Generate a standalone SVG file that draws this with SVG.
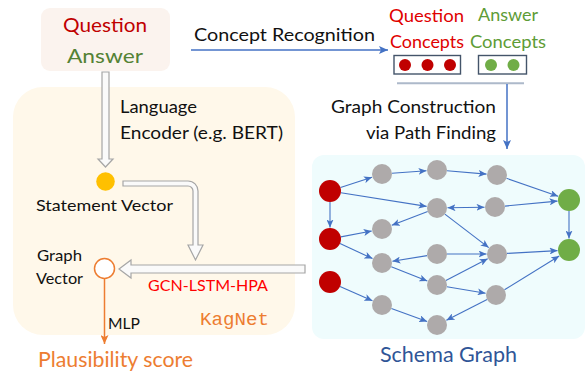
<svg xmlns="http://www.w3.org/2000/svg" width="585" height="374" viewBox="0 0 585 374">
<style>
text{font-family:Lato,"Open Sans","DejaVu Sans",sans-serif;}
.blk{fill:#111;}
.e{stroke:#4472c4;stroke-width:1.1;fill:none;marker-end:url(#ah);}
.gray{fill:#aeaaaa;}
.red{fill:#c00000;}
.grn{fill:#70ad47;}
.hollow{fill:#fafafa;stroke:#a6a6a6;stroke-width:1.2;}
</style>
<defs>
<marker id="ah" markerUnits="userSpaceOnUse" markerWidth="9" markerHeight="7" refX="8" refY="3.5" orient="auto-start-reverse">
<path d="M0,0 L8,3.5 L0,7 L2,3.5 z" fill="#4472c4"/>
</marker>
<marker id="ahb" markerUnits="userSpaceOnUse" markerWidth="10" markerHeight="8" refX="9" refY="4" orient="auto">
<path d="M0,0 L9,4 L0,8 L2,4 z" fill="#4472c4"/>
</marker>
<marker id="aho" markerUnits="userSpaceOnUse" markerWidth="10" markerHeight="8" refX="9" refY="4" orient="auto">
<path d="M0,0 L9,4 L0,8 L2,4 z" fill="#ed7d31"/>
</marker>
</defs>

<g id="kagnet-panel">
<rect x="13" y="87" width="282" height="248" rx="30" fill="#fff8ea"/>
<text x="200" y="325" font-family="'Liberation Mono',monospace" font-size="19" fill="#ed7d31" textLength="69" lengthAdjust="spacingAndGlyphs" style="font-family:'Liberation Mono',monospace">KagNet</text>
</g>

<g id="schema-panel">
<rect x="312" y="155" width="273" height="184" rx="12" fill="#effcfd"/>
<text x="448.5" y="362" font-size="21" fill="#2f5597" text-anchor="middle" textLength="137" lengthAdjust="spacingAndGlyphs">Schema Graph</text>
</g>

<g id="qa-box">
<rect x="41" y="8" width="129" height="63" rx="9" fill="#fbf3ee"/>
<text x="105" y="32" font-size="20" fill="#c00000" text-anchor="middle" textLength="84" lengthAdjust="spacingAndGlyphs">Question</text>
<text x="105" y="63" font-size="20" fill="#548235" text-anchor="middle" textLength="76" lengthAdjust="spacingAndGlyphs">Answer</text>
</g>

<g id="question-concepts">
<text x="426.5" y="22" font-size="17" fill="#e00000" text-anchor="middle" textLength="75" lengthAdjust="spacingAndGlyphs">Question</text>
<text x="427" y="47.5" font-size="17" fill="#e00000" text-anchor="middle" textLength="74" lengthAdjust="spacingAndGlyphs">Concepts</text>
<rect x="394" y="55.5" width="66.5" height="18.5" fill="none" stroke="#44546a" stroke-width="1.4"/>
<circle cx="405" cy="65" r="6" class="red"/>
<circle cx="427.5" cy="65" r="6" class="red"/>
<circle cx="450" cy="65" r="6" class="red"/>
</g>

<g id="answer-concepts">
<text x="508" y="21" font-size="17" fill="#5e9c36" text-anchor="middle" textLength="60" lengthAdjust="spacingAndGlyphs">Answer</text>
<text x="508" y="47.5" font-size="17" fill="#5e9c36" text-anchor="middle" textLength="76" lengthAdjust="spacingAndGlyphs">Concepts</text>
<rect x="478.5" y="55.5" width="48" height="18.5" fill="none" stroke="#44546a" stroke-width="1.4"/>
<circle cx="491" cy="65" r="6" class="grn"/>
<circle cx="513.5" cy="65" r="6" class="grn"/>
</g>

<g id="statement-vector">
<circle cx="105.5" cy="181.5" r="9.3" fill="#ffc000"/>
<text x="36" y="210.5" font-size="15" class="blk" textLength="137" lengthAdjust="spacingAndGlyphs">Statement Vector</text>
</g>

<g id="graph-vector">
<circle cx="104.5" cy="268.5" r="10" fill="#ffffff" stroke="#ed7d31" stroke-width="1.5"/>
<text x="37" y="261" font-size="15" class="blk" textLength="45" lengthAdjust="spacingAndGlyphs">Graph</text>
<text x="36" y="284" font-size="15" class="blk" textLength="47" lengthAdjust="spacingAndGlyphs">Vector</text>
</g>

<g id="plausibility-score">
<text x="38" y="367" font-size="21" fill="#ed7d31" textLength="155" lengthAdjust="spacingAndGlyphs">Plausibility score</text>
</g>

<g id="connectors">
<!-- top pipeline -->
<line x1="191" y1="50" x2="388" y2="50" stroke="#4472c4" stroke-width="1.5" marker-end="url(#ahb)"/>
<text x="194" y="41" font-size="18" class="blk" textLength="181" lengthAdjust="spacingAndGlyphs">Concept Recognition</text>
<line x1="397" y1="83.3" x2="524" y2="83.3" stroke="#adb9ca" stroke-width="2"/>
<line x1="507" y1="84" x2="507" y2="149" stroke="#4472c4" stroke-width="1.5" marker-end="url(#ahb)"/>
<text x="496" y="112.5" font-size="17" class="blk" text-anchor="end" textLength="165" lengthAdjust="spacingAndGlyphs">Graph Construction</text>
<text x="496" y="139" font-size="17" class="blk" text-anchor="end" textLength="130" lengthAdjust="spacingAndGlyphs">via Path Finding</text>

<!-- hollow arrows -->
<polygon class="hollow" points="102,72 109,72 109,159 113,159 105.5,167 98,159 102,159"/>
<text x="120" y="113" font-size="17" class="blk" textLength="77" lengthAdjust="spacingAndGlyphs">Language</text>
<text x="120" y="139" font-size="17" class="blk" textLength="163" lengthAdjust="spacingAndGlyphs">Encoder (e.g. BERT)</text>
<path class="hollow" d="M123,181 H188 A10,10 0 0 1 198,191 V245 H203 L195.5,260 L188,245 H193 V191 A5,5 0 0 0 188,186 H123 Z"/>
<polygon class="hollow" points="305,265 131,265 131,260 119,269 131,278 131,273 305,273"/>
<text x="148" y="291" font-size="15.5" fill="#ff0000" textLength="120" lengthAdjust="spacingAndGlyphs">GCN-LSTM-HPA</text>

<!-- MLP -->
<line x1="104.5" y1="279" x2="104.5" y2="344" stroke="#ed7d31" stroke-width="1.5" marker-end="url(#aho)"/>
<text x="108" y="329" font-size="15" class="blk" textLength="32" lengthAdjust="spacingAndGlyphs">MLP</text>

<!-- schema graph edges -->
<line class="e" x1="340.5" y1="187.6" x2="372" y2="177.3"/>
<line class="e" x1="392" y1="173.3" x2="426.5" y2="170.8"/>
<line class="e" x1="447" y1="170.8" x2="486.5" y2="174.1"/>
<line class="e" x1="506.5" y1="178.3" x2="558.1" y2="196.2"/>
<line class="e" x1="340.9" y1="192.7" x2="426.6" y2="206.4"/>
<line class="e" x1="447.5" y1="207.8" x2="484.5" y2="207.2" marker-start="url(#ah)"/>
<line class="e" x1="505" y1="206.1" x2="557.5" y2="201.1"/>
<line class="e" x1="569" y1="211" x2="569" y2="238.5"/>
<line class="e" x1="330" y1="202" x2="330" y2="227.5"/>
<line class="e" x1="427.7" y1="211.6" x2="391.8" y2="225.3"/>
<line class="e" x1="444.9" y1="214.1" x2="488.7" y2="247.6"/>
<line class="e" x1="340.8" y1="236.9" x2="371.7" y2="231"/>
<line class="e" x1="340" y1="243.6" x2="372.5" y2="258.6"/>
<line class="e" x1="427.1" y1="255.6" x2="392.4" y2="261.3"/>
<line class="e" x1="447" y1="254" x2="486.5" y2="254"/>
<line class="e" x1="507" y1="253.4" x2="557.5" y2="250.6"/>
<line class="e" x1="391.3" y1="266.7" x2="427.3" y2="281.1"/>
<line class="e" x1="445.9" y1="280.4" x2="487.7" y2="258.8"/>
<line class="e" x1="446.9" y1="286.7" x2="485.6" y2="293.2"/>
<line class="e" x1="504.5" y1="289.8" x2="559.2" y2="256"/>
<line class="e" x1="487.1" y1="299.5" x2="446.4" y2="320.2"/>
<line class="e" x1="340" y1="286.4" x2="372.4" y2="300.8"/>
<line class="e" x1="391.4" y1="308.4" x2="427.1" y2="321.4"/>
</g>

<g id="n-r1"><circle cx="330" cy="191" r="11" class="red"/></g>
<g id="n-r2"><circle cx="330" cy="239" r="11" class="red"/></g>
<g id="n-r3"><circle cx="330" cy="282" r="11" class="red"/></g>
<g id="n-g1"><circle cx="569" cy="200" r="11" class="grn"/></g>
<g id="n-g2"><circle cx="569" cy="250" r="11" class="grn"/></g>
<g id="n-a1"><circle cx="382" cy="174" r="10" class="gray"/></g>
<g id="n-a2"><circle cx="437" cy="170" r="10" class="gray"/></g>
<g id="n-a3"><circle cx="497" cy="175" r="10" class="gray"/></g>
<g id="n-b1"><circle cx="437" cy="208" r="10" class="gray"/></g>
<g id="n-b2"><circle cx="495" cy="207" r="10" class="gray"/></g>
<g id="n-c1"><circle cx="382" cy="229" r="10" class="gray"/></g>
<g id="n-c2"><circle cx="382" cy="263" r="10" class="gray"/></g>
<g id="n-d1"><circle cx="437" cy="254" r="10" class="gray"/></g>
<g id="n-d2"><circle cx="497" cy="254" r="10" class="gray"/></g>
<g id="n-e1"><circle cx="437" cy="285" r="10" class="gray"/></g>
<g id="n-e2"><circle cx="496" cy="295" r="10" class="gray"/></g>
<g id="n-f1"><circle cx="382" cy="305" r="10" class="gray"/></g>
<g id="n-f2"><circle cx="437" cy="325" r="10" class="gray"/></g>
</svg>
